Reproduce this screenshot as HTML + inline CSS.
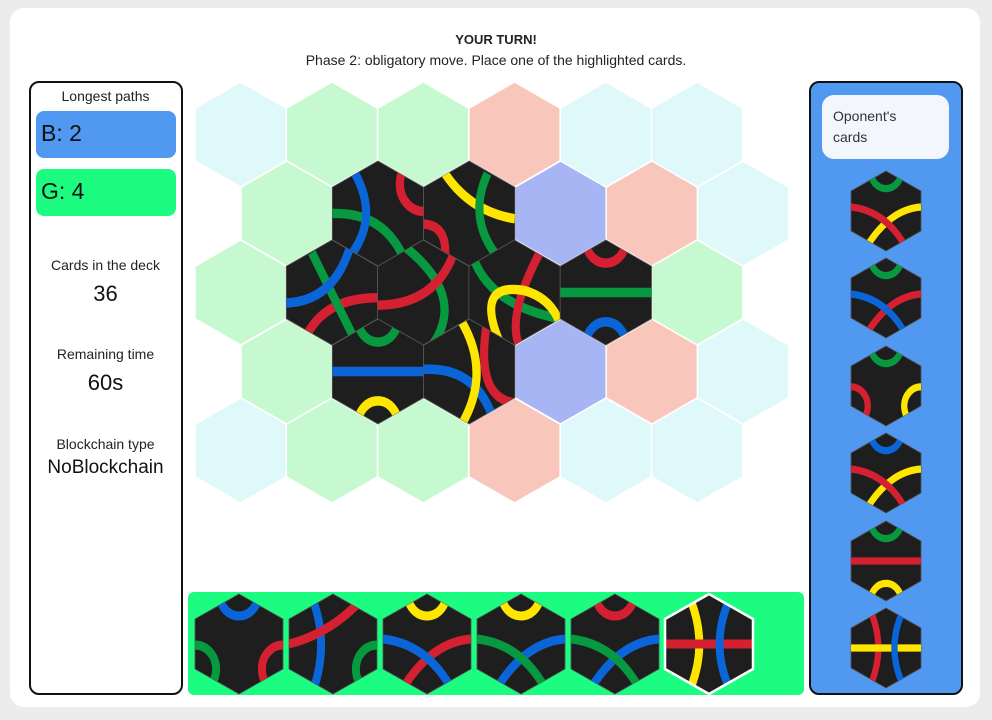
<!DOCTYPE html>
<html><head><meta charset="utf-8"><style>
*{box-sizing:border-box;margin:0;padding:0}
body{width:992px;height:720px;background:#ececec;font-family:"Liberation Sans",sans-serif;position:relative;overflow:hidden;color:#222}
.card{position:absolute;left:10px;top:8px;width:970px;height:699px;background:#fff;border-radius:14px}
.abs{position:absolute}
.center{text-align:center}
#left{left:29px;top:81px;width:154px;height:614px;border:2.5px solid #111;border-radius:10px;background:#fff}
#right{left:809px;top:81px;width:154px;height:614px;border:2.5px solid #111;border-radius:10px;background:#5198f0}
.score{position:absolute;left:5px;width:140px;height:47px;border-radius:8px;font-size:23px;padding:9px 0 0 5px;color:#111}
.lbl{position:absolute;left:0;width:149px;text-align:center;font-size:14px;color:#222}
.val{position:absolute;left:0;width:149px;text-align:center;font-size:22px;color:#111}
</style></head><body>
<div class="card"></div>
<div class="abs center" style="left:0;width:992px;top:32px;font-size:13px;font-weight:bold">YOUR TURN!</div>
<div class="abs center" style="left:0;width:992px;top:52px;font-size:14px">Phase 2: obligatory move. Place one of the highlighted cards.</div>

<div id="left" class="abs">
  <div class="lbl" style="top:5px">Longest paths</div>
  <div class="score" style="top:28px;background:#5198f0">B: 2</div>
  <div class="score" style="top:86px;background:#1cfc80">G: 4</div>
  <div class="lbl" style="top:174px">Cards in the deck</div>
  <div class="val" style="top:198px">36</div>
  <div class="lbl" style="top:263px">Remaining time</div>
  <div class="val" style="top:287px">60s</div>
  <div class="lbl" style="top:353px">Blockchain type</div>
  <div class="val" style="top:374px;font-size:19px">NoBlockchain</div>
</div>

<div id="right" class="abs">
  <div class="abs" style="left:11px;top:12px;width:127px;height:64px;background:#f3f7fd;border-radius:12px;font-size:14px;line-height:21px;padding:11px 0 0 11px;color:#333">Oponent's<br>cards</div>
</div>

<div class="abs" style="left:188px;top:592px;width:616px;height:103px;background:#1cfc80;border-radius:6px"></div>

<svg id="svg" class="abs" style="left:0;top:0" width="992" height="720">
</svg>
<script>
// board cell colors, rows top->bottom
const boardRows = [
 ["c","g","g","p","c","c"],
 ["g","T","T","b","p","c"],
 ["g","T","T","T","T","g"],
 ["g","T","T","b","p","c"],
 ["c","g","g","p","c","c"]
];
const R='#d42030',G='#079940',B='#0a66d8',Y='#ffe600';
// tile drawings in 100x100 unit space
const boardTiles = {
 "1,1":[['p',G,'M0,50 Q60,48 82,100'],['p',B,'M25,12 Q55,60 10,100'],['c',R,100,22,26]],
 "1,2":[['p',R,'M0,60 Q30,62 22,100'],['p',Y,'M22,10 Q50,48 100,55'],['p',G,'M70,12 Q45,60 90,100']],
 "2,1":[['p',R,'M20,95 Q40,55 100,55'],['p',G,'M28,12 Q55,60 78,100'],['p',B,'M0,60 Q55,58 72,0']],
 "2,2":[['p',G,'M20,0 Q100,50 60,100'],['p',R,'M0,62 Q70,62 88,0']],
 "2,3":[['p',G,'M0,0 Q10,60 100,75'],['p',R,'M85,0 Q40,70 55,100'],['p',Y,'M35,100 Q5,40 60,48 Q90,55 100,80']],
 "2,4":[['c',R,50,0,22],['l',G,0,50,100,50],['c',B,50,100,22]],
 "3,1":[['c',G,50,0,22],['l',B,0,50,100,50],['c',Y,50,100,22]],
 "3,2":[['p',R,'M100,80 Q55,75 70,0'],['p',B,'M0,48 Q60,45 78,100'],['p',Y,'M40,0 Q75,50 42,100']]
};
const handTiles = [
 [['c',B,50,0,22],['c',G,0,75,24],['c',R,100,75,24]],
 [['p',B,'M28,8 Q45,50 28,95'],['p',R,'M0,50 Q45,40 80,8'],['c',G,100,75,24]],
 [['c',Y,50,0,22],['p',R,'M100,45 Q55,48 22,95'],['p',B,'M0,45 Q50,50 78,95']],
 [['c',Y,50,0,22],['p',B,'M100,45 Q55,48 22,95'],['p',G,'M0,45 Q50,50 78,95']],
 [['c',R,50,0,22],['p',B,'M100,45 Q55,48 22,95'],['p',G,'M0,45 Q50,50 78,95']],
 [['p',Y,'M30,8 Q48,50 30,92'],['l',R,0,50,100,50],['p',B,'M72,8 Q52,50 72,92']]
];
const oppTiles = [
 [['c',G,50,0,22],['p',Y,'M100,45 Q55,48 22,95'],['p',R,'M0,45 Q50,50 78,95']],
 [['c',G,50,0,22],['p',R,'M100,45 Q55,48 22,95'],['p',B,'M0,45 Q50,50 78,95']],
 [['c',G,50,0,22],['c',R,0,75,24],['c',Y,100,75,24]],
 [['c',B,50,0,22],['p',Y,'M100,45 Q55,48 22,95'],['p',R,'M0,45 Q50,50 78,95']],
 [['c',G,50,0,22],['l',R,0,50,100,50],['c',Y,50,100,22]],
 [['p',R,'M30,8 Q48,50 30,92'],['l',Y,0,50,100,50],['p',B,'M72,8 Q52,50 72,92']]
];
const cellColor={c:'#dff8fa',g:'#c6f9d0',p:'#f9c6bb',b:'#a8b5f5',T:'#1e1e1e'};
const NS='http://www.w3.org/2000/svg';
const svg=document.getElementById('svg');
function el(t,a,p){const e=document.createElementNS(NS,t);for(const k in a)e.setAttribute(k,a[k]);(p||svg).appendChild(e);return e;}
const defs=el('defs',{});
const cp=el('clipPath',{id:'hc',clipPathUnits:'userSpaceOnUse'},defs);
el('polygon',{points:'50,0 100,25 100,75 50,100 0,75 0,25'},cp);
function hexPts(x,y,w,h){return [[x+w/2,y],[x+w,y+h/4],[x+w,y+3*h/4],[x+w/2,y+h],[x,y+3*h/4],[x,y+h/4]].map(p=>p.join(',')).join(' ');}
function tile(x,y,w,h,items,name,border){
 const g=el('g',{});
 
 
 el('polygon',{points:hexPts(x,y,w,h),fill:'#1e1e1e',stroke:'#555','stroke-width':0.8},g);
 const inner=el('svg',{x:x,y:y,width:w,height:h,viewBox:'0 0 100 100',preserveAspectRatio:'none',overflow:'hidden'},g);
 const cg=el('g',{'clip-path':'url(#hc)'},inner);
 const sw=9;
 items.forEach(it=>{
  if(it[0]==='c')el('circle',{cx:it[2],cy:it[3],r:it[4],fill:'none',stroke:it[1],'stroke-width':sw},cg);
  else if(it[0]==='l')el('line',{x1:it[2],y1:it[3],x2:it[4],y2:it[5],stroke:it[1],'stroke-width':sw},cg);
  else el('path',{d:it[2],fill:'none',stroke:it[1],'stroke-width':sw},cg);
 });
 if(border) el('polygon',{points:hexPts(x,y,w,h),fill:'none',stroke:border,'stroke-width':2.5},g);
 return g;
}
const W=91.3,H=105,VS=79;
const dark=[];
boardRows.forEach((row,r)=>{
 const x0=r%2?241:195, y=82+r*VS;
 row.forEach((c,i)=>{
  const x=x0+i*W;
  if(c==='T'){dark.push([x,y,r,i]);return;}
  const p=el('polygon',{points:hexPts(x,y,W,H),fill:cellColor[c],stroke:'#fff','stroke-width':1.5});
  
  
 });
});
dark.forEach(d=>{tile(d[0],d[1],W,H,boardTiles[d[2]+','+d[3]]||[],'placed-tile');});
handTiles.forEach((t,i)=>{tile(195+i*94,594,88,100,t,'hand-card',i===5?'#fff':null);});
const oppTops=[171,258,346,433,521,608];
oppTiles.forEach((t,i)=>{tile(851,oppTops[i],70,80,t,'opponent-card');});
</script>
</body></html>
